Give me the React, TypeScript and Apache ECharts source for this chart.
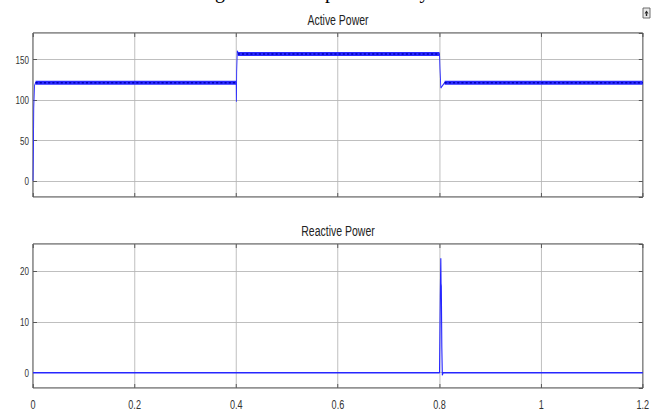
import React, { useEffect, useRef } from "react";
import * as echarts from "echarts";

// ---- data ----
const xTickLabels = ["0", "0.2", "0.4", "0.6", "0.8", "1", "1.2"];
const activeTitle = "Active Power";
const reactiveTitle = "Reactive Power";
const captionText = "Simulation result showing the level of power in any case";

// Active power: transient path (time s, power)
const activeTime = [0, 0.0008, 0.0015, 0.003, 0.005, 0.4, 0.4003, 0.4008, 0.402, 0.405, 0.8, 0.8008, 0.8026, 0.806, 0.81, 1.2];
const activeValue = [0, 40, 90, 118, 121.5, 121.5, 98, 135, 161, 157, 157, 140, 115, 118, 121.5, 121.5];

// Active power: steady (rippled) segments
const bandStart = [0.005, 0.403, 0.81];
const bandEnd = [0.4, 0.8, 1.2];
const bandLevel = [121.5, 157, 121.5];

// Reactive power
const reactiveTime = [0, 0.8, 0.8015, 0.8025, 0.803, 0.8035, 0.8045, 0.8055, 0.807, 1.2];
const reactiveValue = [0, 0, 15, 22.5, 17.5, 17, 5, -0.5, 0, 0];

// the reference picture is horizontally condensed; draw wider and squeeze
const SX = 0.7;
const W = 654;
const H = 414;
const FONT = "'Liberation Sans', Arial, sans-serif";

export default function App() {
  const ref = useRef<HTMLDivElement>(null);
  useEffect(() => {
    if (!ref.current) return;
    const chart = echarts.init(ref.current, null, { renderer: "svg" });

    const gridColor = "#b4b4b4";
    const tickColor = "#444";

    const mkX = (gridIndex: number, position: "top" | "bottom", showLabel: boolean) => ({
      type: "value" as const,
      gridIndex,
      position,
      min: 0,
      max: 1.2,
      interval: 0.2,
      axisLine: { show: false, onZero: false },
      axisTick: { show: true, inside: true, length: 4, lineStyle: { color: tickColor } },
      axisLabel: showLabel
        ? {
            show: true,
            margin: 10,
            color: "#333",
            fontSize: 13,
            fontFamily: FONT,
            formatter: (v: number) => {
              const i = Math.round(v / 0.2);
              return xTickLabels[i] ?? "";
            },
          }
        : { show: false },
      splitLine: { show: position === "bottom", lineStyle: { color: gridColor, width: 1 } },
    });

    const mkY = (
      gridIndex: number,
      position: "left" | "right",
      min: number,
      max: number,
      splitNumber: number
    ) => ({
      type: "value" as const,
      gridIndex,
      position,
      min,
      max,
      splitNumber,
      axisLine: { show: false, onZero: false },
      axisTick: { show: true, inside: true, length: 4 / SX, lineStyle: { color: tickColor } },
      axisLabel:
        position === "left"
          ? {
              show: true,
              margin: 4 / SX,
              showMinLabel: false,
              showMaxLabel: false,
              color: "#333",
              fontSize: 11.5,
              fontFamily: FONT,
            }
          : { show: false },
      splitLine: { show: position === "left", lineStyle: { color: gridColor, width: 1 } },
    });

    const bandSeries: any[] = [];
    bandStart.forEach((s, i) => {
      const d = [
        [s, bandLevel[i]],
        [bandEnd[i], bandLevel[i]],
      ];
      bandSeries.push({
        type: "line",
        xAxisIndex: 0,
        yAxisIndex: 0,
        data: d,
        showSymbol: false,
        lineStyle: { color: "#2a2aff", width: 4 },
        z: 3,
      });
      bandSeries.push({
        type: "line",
        xAxisIndex: 0,
        yAxisIndex: 0,
        data: d,
        showSymbol: false,
        lineStyle: { color: "#0000b4", width: 1.6, type: [3, 3] },
        z: 4,
      });
    });

    const option: any = {
      animation: false,
      backgroundColor: "#ffffff",
      grid: [
        { left: 33 / SX, right: 11 / SX, top: 33, height: 164, show: true, borderColor: "#000", borderWidth: 1, backgroundColor: "transparent" },
        { left: 33 / SX, right: 11 / SX, top: 244, height: 144, show: true, borderColor: "#000", borderWidth: 1, backgroundColor: "transparent" },
      ],
      xAxis: [mkX(0, "bottom", false), mkX(0, "top", false), mkX(1, "bottom", true), mkX(1, "top", false)],
      yAxis: [
        mkY(0, "left", -20, 183, 4),
        mkY(0, "right", -20, 183, 4),
        mkY(1, "left", -3, 25.3, 3),
        mkY(1, "right", -3, 25.3, 3),
      ],
      series: [
        {
          type: "line",
          xAxisIndex: 0,
          yAxisIndex: 0,
          data: activeTime.map((t, i) => [t, activeValue[i]]),
          showSymbol: false,
          lineStyle: { color: "#2b2bff", width: 1.3 },
          z: 2,
        },
        ...bandSeries,
        {
          type: "line",
          xAxisIndex: 2,
          yAxisIndex: 2,
          data: reactiveTime.map((t, i) => [t, reactiveValue[i]]),
          showSymbol: false,
          lineStyle: { color: "#2626ff", width: 1.6 },
          z: 2,
        },
      ],
      graphic: [
        {
          type: "text",
          x: 15 / SX,
          y: 1,
          scaleX: 1 / SX,
          style: {
            text: captionText,
            fontFamily: "'Liberation Serif', 'Times New Roman', serif",
            fontSize: 20,
            fill: "#000",
            align: "left",
            verticalAlign: "bottom",
          },
        },
        {
          type: "text",
          x: 338 / SX,
          y: 20,
          style: {
            text: activeTitle,
            fontFamily: FONT,
            fontSize: 15,
            fill: "#222",
            align: "center",
            verticalAlign: "middle",
          },
        },
        {
          type: "text",
          x: 338 / SX,
          y: 231,
          style: {
            text: reactiveTitle,
            fontFamily: FONT,
            fontSize: 15,
            fill: "#222",
            align: "center",
            verticalAlign: "middle",
          },
        },
        {
          type: "group",
          x: 643 / SX,
          y: 8,
          children: [
            { type: "rect", shape: { x: 0, y: 0, width: 10, height: 10 }, style: { fill: "#e8e8e8", stroke: "#555", lineWidth: 1 } },
            { type: "polygon", shape: { points: [[5, 2.5], [2.2, 5.5], [7.8, 5.5]] }, style: { fill: "#222" } },
            { type: "rect", shape: { x: 4, y: 5.5, width: 2, height: 2.5 }, style: { fill: "#222" } },
          ],
        },
      ],
    };

    chart.setOption(option);
    return () => chart.dispose();
  }, []);

  return (
    <div
      style={{ position: "fixed", left: 0, top: 0, width: W, height: H, overflow: "hidden", background: "#fff" }}
    >
      <div
        ref={ref}
        style={{
          width: W / SX,
          height: H,
          transform: `scaleX(${SX})`,
          transformOrigin: "0 0",
        }}
      />
    </div>
  );
}
